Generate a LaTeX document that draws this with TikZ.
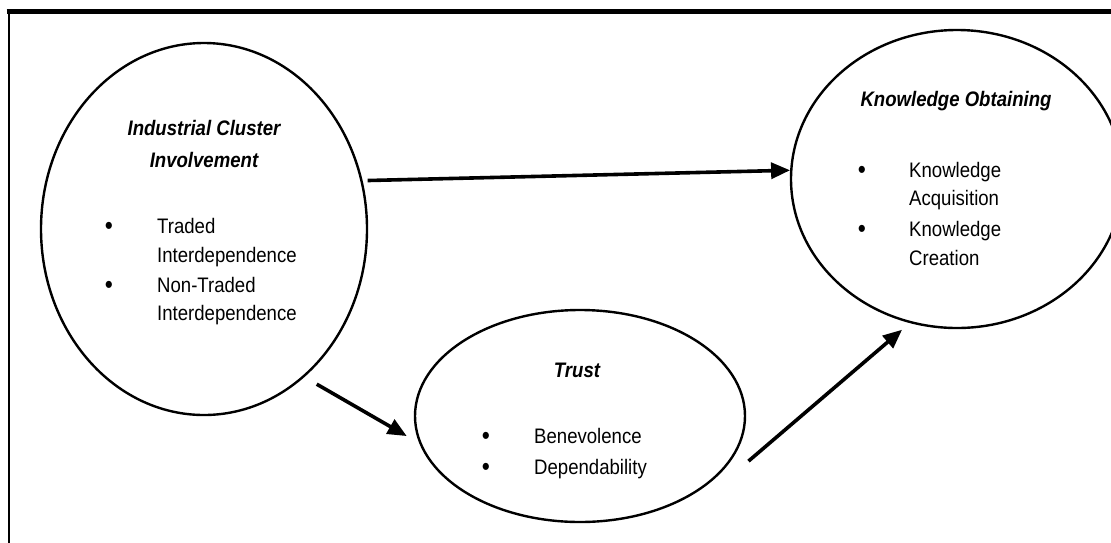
\documentclass[tikz,border=0pt]{standalone}
\usepackage{fontspec}
\setmainfont{Liberation Sans}[FakeStretch=0.885]
\usetikzlibrary{shapes.geometric,arrows.meta}

\tikzset{
  construct/.style={draw, line width=2.4pt, ellipse, inner sep=0pt},
  heading/.style={anchor=base, inner sep=0pt, font=\fontsize{21}{25}\selectfont\bfseries\itshape},
  item/.style={anchor=base west, inner sep=0pt, font=\fontsize{21}{25}\selectfont},
  dot/.style={anchor=base, inner sep=0pt, font=\fontsize{26}{30}\selectfont},
  link/.style={line width=3.6pt, -{Triangle[length=19pt,width=16pt]}}
}

\begin{document}
\begin{tikzpicture}[x=1pt, y=-1pt]
  \useasboundingbox (0,0) rectangle (1111,542);

  % outer frame (only top and left edges fall inside the page)
  \draw[line width=4.5pt] (6.5,11.5) -- (1120,11.5);
  \draw[line width=2.4pt] (8.7,11.5) -- (8.7,550);

  % constructs
  \node[construct, minimum width=326pt, minimum height=372pt] (icl) at (204,229) {};
  \node[construct, minimum width=332pt, minimum height=298pt] (ko) at (957,179) {};
  \node[construct, minimum width=330pt, minimum height=212pt] (trust) at (580,416) {};

  % Industrial Cluster Involvement
  \node[heading] (iclt1) at (204,135) {Industrial Cluster};
  \node[heading] (iclt2) at (204,167) {Involvement};
  \node[dot] (iclb1) at (109,234) {•};
  \node[item] (icli1) at (157,233) {Traded};
  \node[item] (icli2) at (157,262) {Interdependence};
  \node[dot] (iclb2) at (109,293) {•};
  \node[item] (icli3) at (157,292) {Non-Traded};
  \node[item] (icli4) at (157,320) {Interdependence};

  % Knowledge Obtaining
  \node[heading] (kot) at (956,106) {Knowledge Obtaining};
  \node[dot] (kob1) at (862,178) {•};
  \node[item] (koi1) at (909,177) {Knowledge};
  \node[item] (koi2) at (909,205) {Acquisition};
  \node[dot] (kob2) at (862,237) {•};
  \node[item] (koi3) at (909,236) {Knowledge};
  \node[item] (koi4) at (909,265) {Creation};

  % Trust
  \node[heading] (trt) at (577,377) {Trust};
  \node[dot] (trb1) at (486,444) {•};
  \node[item] (tri1) at (534,443) {Benevolence};
  \node[dot] (trb2) at (486,475) {•};
  \node[item] (tri2) at (534,474) {Dependability};

  % relationships
  \draw[link] ([xshift=5pt]icl.17) -- (ko.177);
  \draw[link] ([shift={(8pt,-11pt)}]icl.-54) -- ([xshift=-10pt]trust.187);
  \draw[link] ([shift={(15pt,-4pt)}]trust.-15) -- ([shift={(-3pt,-8pt)}]ko.250);
\end{tikzpicture}
\end{document}
